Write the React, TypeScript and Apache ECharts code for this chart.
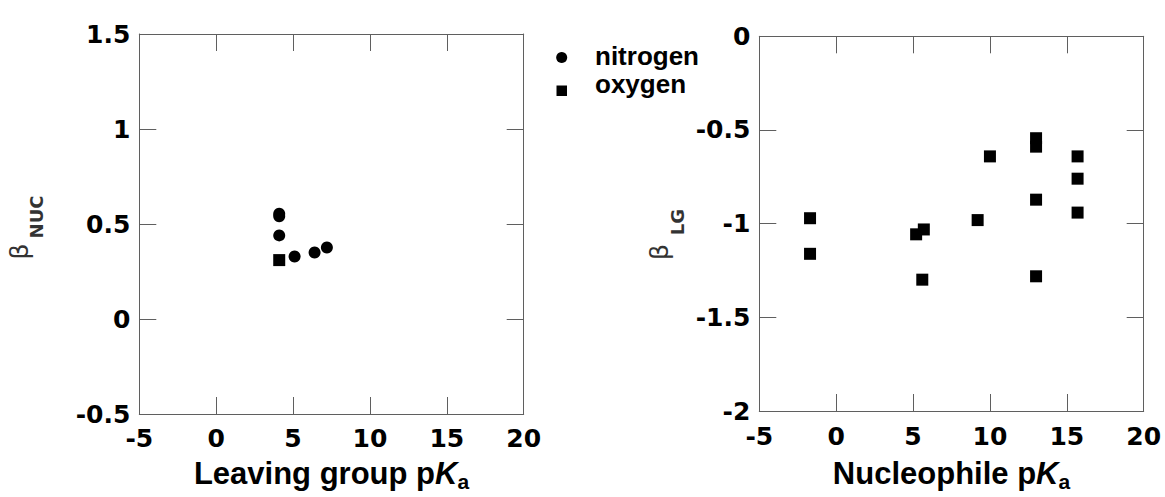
import React, { useEffect, useRef } from "react";
import * as echarts from "echarts";

// Left panel: leaving group pKa vs beta_NUC
const nitrogenX = [4.1, 4.1, 4.1, 5.1, 6.4, 7.2];
const nitrogenY = [0.554, 0.541, 0.44, 0.329, 0.35, 0.376];
const oxygenX = [4.1];
const oxygenY = [0.31];

// Right panel: nucleophile pKa vs beta_LG
const nucX = [-1.7, -1.7, 5.2, 5.7, 5.6, 9.2, 10.0, 13.0, 13.0, 13.0, 13.0, 15.7, 15.7, 15.7];
const nucY = [-0.971, -1.161, -1.057, -1.031, -1.299, -0.981, -0.641, -0.544, -0.589, -0.872, -1.281, -0.641, -0.76, -0.941];

const xTicks = { min: -5, max: 20, interval: 5 };
const leftYTicks = { min: -0.5, max: 1.5, interval: 0.5 };
const rightYTicks = { min: -2, max: 0, interval: 0.5 };

const AXIS_COLOR = "#5f5f5f";
const NUM_FONT = "DejaVu Sans";
const TXT_FONT = "Liberation Sans";

function pairs(xs: number[], ys: number[]) {
  return xs.map((x, i) => [x, ys[i]]);
}

function mainX(gridIndex: number, title: string, gap: number, margin: number) {
  return {
    type: "value",
    gridIndex,
    position: "bottom",
    ...xTicks,
    axisLine: { show: true, onZero: false, lineStyle: { color: AXIS_COLOR, width: 1 } },
    axisTick: { show: true, inside: true, length: 17, lineStyle: { color: AXIS_COLOR } },
    splitLine: { show: false },
    axisLabel: {
      show: true,
      margin,
      color: "#000",
      fontFamily: NUM_FONT,
      fontWeight: "bold",
      fontSize: 25,
    },
    name: `{b|${title} p}{i|K}{s|a}`,
    nameLocation: "middle",
    nameGap: gap,
    nameTextStyle: {
      verticalAlign: "top",
      rich: {
        b: { fontFamily: TXT_FONT, fontWeight: "bold", fontSize: 31, color: "#000", verticalAlign: "top" },
        i: { fontFamily: TXT_FONT, fontWeight: "bold", fontStyle: "italic", fontSize: 31, color: "#000", verticalAlign: "top" },
        s: { fontFamily: TXT_FONT, fontWeight: "bold", fontSize: 21, color: "#000", verticalAlign: "top", padding: [13, 0, 0, 0] },
      },
    },
  };
}

function mirrorX(gridIndex: number) {
  return {
    type: "value",
    gridIndex,
    position: "top",
    ...xTicks,
    axisLine: { show: true, onZero: false, lineStyle: { color: AXIS_COLOR, width: 1 } },
    axisTick: { show: true, inside: true, length: 17, lineStyle: { color: AXIS_COLOR } },
    splitLine: { show: false },
    axisLabel: { show: false },
  };
}

function mainY(gridIndex: number, ticks: any) {
  return {
    type: "value",
    gridIndex,
    position: "left",
    ...ticks,
    axisLine: { show: true, onZero: false, lineStyle: { color: AXIS_COLOR, width: 1 } },
    axisTick: { show: true, inside: true, length: 17, lineStyle: { color: AXIS_COLOR } },
    splitLine: { show: false },
    axisLabel: {
      show: true,
      margin: 9,
      color: "#000",
      fontFamily: NUM_FONT,
      fontWeight: "bold",
      fontSize: 25,
      padding: [0, 0, 10, 0],
    },
  };
}

function mirrorY(gridIndex: number, ticks: any) {
  return {
    type: "value",
    gridIndex,
    position: "right",
    ...ticks,
    axisLine: { show: true, onZero: false, lineStyle: { color: AXIS_COLOR, width: 1 } },
    axisTick: { show: true, inside: true, length: 17, lineStyle: { color: AXIS_COLOR } },
    splitLine: { show: false },
    axisLabel: { show: false },
  };
}

function rotText(text: string, x: number, y: number, size: number, bold: boolean, family: string) {
  return {
    type: "text",
    x,
    y,
    rotation: Math.PI / 2,
    style: {
      text,
      fill: "#333",
      fontSize: size,
      fontWeight: bold ? "bold" : "normal",
      fontFamily: family,
      align: "center",
      verticalAlign: "middle",
      textAlign: "center",
      textVerticalAlign: "middle",
    },
  };
}

function legendText(text: string, x: number, y: number) {
  return {
    type: "text",
    x,
    y,
    style: {
      text,
      fill: "#000",
      fontSize: 26,
      fontWeight: "bold",
      fontFamily: TXT_FONT,
      align: "left",
      verticalAlign: "middle",
      textAlign: "left",
      textVerticalAlign: "middle",
    },
  };
}

const markerStyle = { color: "#000", opacity: 1 };

export default function App() {
  const ref = useRef<HTMLDivElement>(null);

  useEffect(() => {
    if (!ref.current) return;
    const chart = echarts.init(ref.current, null, { renderer: "svg" });
    chart.setOption({
      animation: false,
      backgroundColor: "#fff",
      grid: [
        { left: 139.3, top: 34, width: 384.4, height: 384.3 },
        { left: 759.3, top: 36.3, width: 384.4, height: 384 },
      ],
      xAxis: [
        mainX(0, "Leaving group", 44, 12),
        mirrorX(0),
        mainX(1, "Nucleophile", 47, 13),
        mirrorX(1),
      ],
      yAxis: [
        mainY(0, leftYTicks),
        mirrorY(0, leftYTicks),
        mainY(1, rightYTicks),
        mirrorY(1, rightYTicks),
      ],
      series: [
        {
          name: "nitrogen",
          type: "scatter",
          xAxisIndex: 0,
          yAxisIndex: 0,
          symbol: "circle",
          symbolSize: 12,
          itemStyle: markerStyle,
          data: pairs(nitrogenX, nitrogenY),
        },
        {
          name: "oxygen",
          type: "scatter",
          xAxisIndex: 0,
          yAxisIndex: 0,
          symbol: "rect",
          symbolSize: 12,
          itemStyle: markerStyle,
          data: pairs(oxygenX, oxygenY),
        },
        {
          name: "βLG",
          type: "scatter",
          xAxisIndex: 2,
          yAxisIndex: 2,
          symbol: "rect",
          symbolSize: 12,
          itemStyle: markerStyle,
          data: pairs(nucX, nucY),
        },
      ],
      graphic: [
        { type: "circle", shape: { cx: 561.7, cy: 57.5, r: 5.5 }, style: { fill: "#000" } },
        { type: "rect", shape: { x: 556.5, y: 85.5, width: 10.5, height: 10.5 }, style: { fill: "#000" } },
        legendText("nitrogen", 595, 56),
        legendText("oxygen", 595, 84),
        rotText("β", 19, 251.5, 25, false, "DejaVu Sans"),
        rotText("NUC", 36.5, 217, 18, true, NUM_FONT),
        rotText("β", 659, 252, 25, false, "DejaVu Sans"),
        rotText("LG", 677, 222, 18, true, NUM_FONT),
      ],
    });
    return () => chart.dispose();
  }, []);

  return (
    <div
      ref={ref}
      style={{ position: "fixed", left: 0, top: 0, width: 1165, height: 497, background: "#fff" }}
    />
  );
}
